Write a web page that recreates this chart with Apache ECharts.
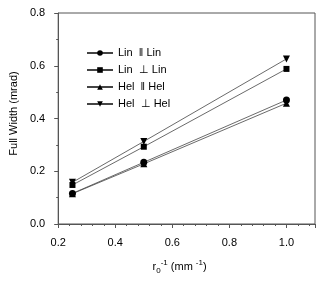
<!DOCTYPE html>
<html><head><meta charset="utf-8">
<script src="https://cdn.jsdelivr.net/npm/echarts@6/dist/echarts.min.js"></script>
<style>html,body{margin:0;padding:0;background:#fff}#c{width:329px;height:281px}</style>
</head><body><div id="c"></div>
<script>
const xValues = [0.25, 0.5, 1.0];
const linParLin = [0.116, 0.234, 0.470];
const linPerpLin = [0.148, 0.293, 0.588];
const helParHel = [0.115, 0.228, 0.458];
const helPerpHel = [0.158, 0.313, 0.626];
const seriesNames = ['Lin  \u2016 Lin', 'Lin  \u22A5 Lin', 'Hel  \u2016 Hel', 'Hel  \u22A5 Hel'];
const seriesValues = [linParLin, linPerpLin, helParHel, helPerpHel];
const symbols = ['circle', 'rect', 'triangle', 'path://M0,0 L10,0 L5,10 Z'];
const symbolSizes = [7, 6, 7, 7];

const font = 'Liberation Sans, Arial, sans-serif';
const chart = echarts.init(document.getElementById('c'));
chart.setOption({
  animation: false,
  grid: {left: 51, top: 13, right: 14, bottom: 57, show: true, borderColor: '#555', borderWidth: 1},
  legend: {
    orient: 'vertical', left: 81, top: 42, itemGap: 5, itemWidth: 26, itemHeight: 7,
    textStyle: {fontFamily: font, fontSize: 11, color: '#000', lineHeight: 12},
    data: seriesNames
  },
  xAxis: {
    type: 'value', min: 0.2, max: 1.1, interval: 0.2,
    axisLine: {lineStyle: {color: '#555'}},
    axisTick: {length: 4, lineStyle: {color: '#555'}},
    minorTick: {show: true, splitNumber: 5, length: 2, lineStyle: {color: '#555'}},
    splitLine: {show: false},
    axisLabel: {fontFamily: font, fontSize: 11, color: '#000', margin: 13,
      formatter: v => v.toFixed(1), showMaxLabel: false},
    name: '{a|r}{sub|0}{sup|-1}{a| (mm }{sup|-1}{a|)}',
    nameLocation: 'middle', nameGap: 35,
    nameTextStyle: {
      padding: [0, 14, 0, 0],
      rich: {
        a: {fontFamily: font, fontSize: 11, color: '#000', lineHeight: 16, verticalAlign: 'middle'},
        sub: {fontFamily: font, fontSize: 8, color: '#000', padding: [6, 0, 0, 0], verticalAlign: 'bottom'},
        sup: {fontFamily: font, fontSize: 8, color: '#000', padding: [0, 0, 6, 0], verticalAlign: 'top'}
      }
    }
  },
  yAxis: {
    type: 'value', min: 0, max: 0.8, interval: 0.2,
    axisLine: {show: true, lineStyle: {color: '#555'}},
    axisTick: {show: true, length: 4, lineStyle: {color: '#555'}},
    minorTick: {show: true, splitNumber: 2, length: 2, lineStyle: {color: '#555'}},
    splitLine: {show: false},
    axisLabel: {fontFamily: font, fontSize: 11, color: '#000', margin: 13, formatter: v => v.toFixed(1)},
    name: 'Full Width (mrad)', nameLocation: 'middle', nameGap: 39, nameRotate: 90,
    nameTextStyle: {fontFamily: font, fontSize: 11, color: '#000', padding: [0, 0, 0, 10]}
  },
  series: seriesNames.map((n, i) => ({
    name: n, type: 'line',
    data: xValues.map((x, j) => [x, seriesValues[i][j]]),
    symbol: symbols[i], symbolSize: symbolSizes[i],
    lineStyle: {color: '#444', width: 0.8},
    itemStyle: {color: '#000'}
  }))
});
</script></body></html>
